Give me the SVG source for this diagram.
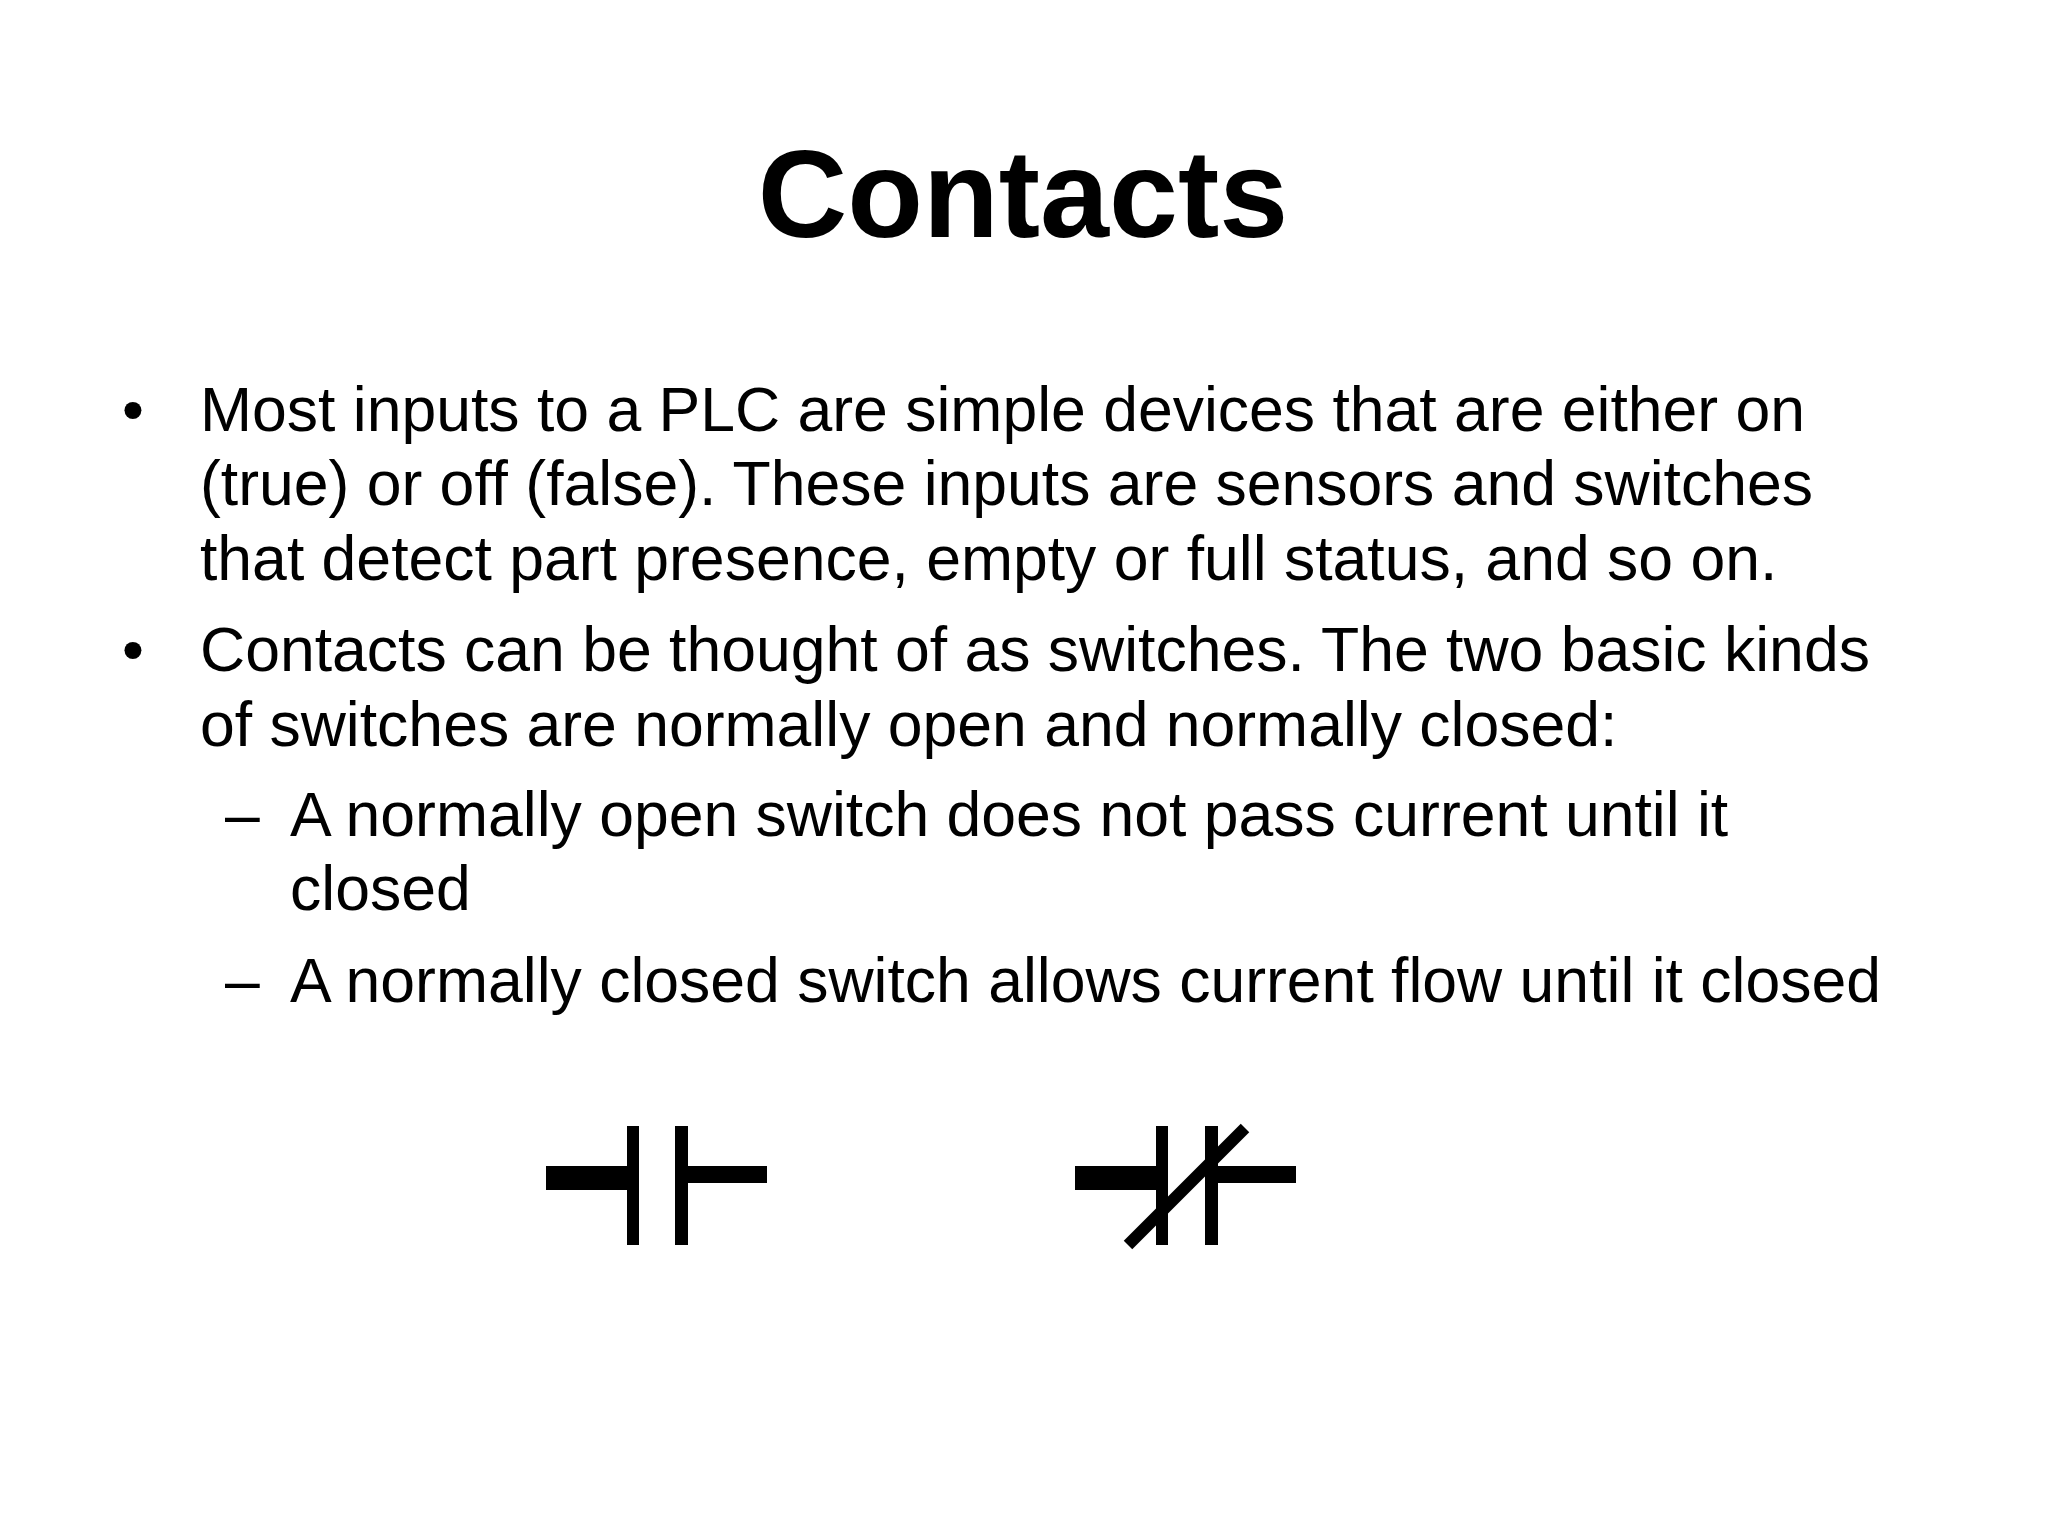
<svg xmlns="http://www.w3.org/2000/svg" width="2048" height="1536" viewBox="0 0 2048 1536">
<style>
.t{font-family:"Liberation Sans",Arial,sans-serif;fill:#000}
.b{font-size:62.5px}
.s{font-size:62.5px}
</style>
<rect width="2048" height="1536" fill="#fff"/>
<text class="t" x="1023" y="237" font-size="124" font-weight="bold" text-anchor="middle">Contacts</text>
<g id="text">
<text class="t b" x="122" y="431">•</text>
<text class="t b" x="200" y="431">Most inputs to a PLC are simple devices that are either on</text>
<text class="t b" x="200" y="505">(true) or off (false). These inputs are sensors and switches</text>
<text class="t b" x="200" y="580">that detect part presence, empty or full status, and so on.</text>
<text class="t b" x="122" y="671">•</text>
<text class="t b" x="200" y="671">Contacts can be thought of as switches. The two basic kinds</text>
<text class="t b" x="200" y="746">of switches are normally open and normally closed:</text>
<text class="t s" x="225" y="836">–</text>
<text class="t s" x="290" y="836">A normally open switch does not pass current until it</text>
<text class="t s" x="290" y="910">closed</text>
<text class="t s" x="225" y="1002">–</text>
<text class="t s" x="290" y="1002">A normally closed switch allows current flow until it closed</text>
</g>
<g id="no-contact" fill="#000">
<rect x="546" y="1166" width="81" height="24"/>
<rect x="627" y="1126" width="12" height="119"/>
<rect x="675" y="1126" width="13" height="119"/>
<rect x="688" y="1166" width="79" height="17"/>
</g>
<g id="nc-contact" fill="#000">
<rect x="1075" y="1166" width="81" height="24"/>
<rect x="1156" y="1126" width="12" height="119"/>
<rect x="1205" y="1126" width="13" height="119"/>
<rect x="1218" y="1166" width="78" height="17"/>
<line x1="1128" y1="1245" x2="1245" y2="1128" stroke="#000" stroke-width="12"/>
</g>
</svg>
